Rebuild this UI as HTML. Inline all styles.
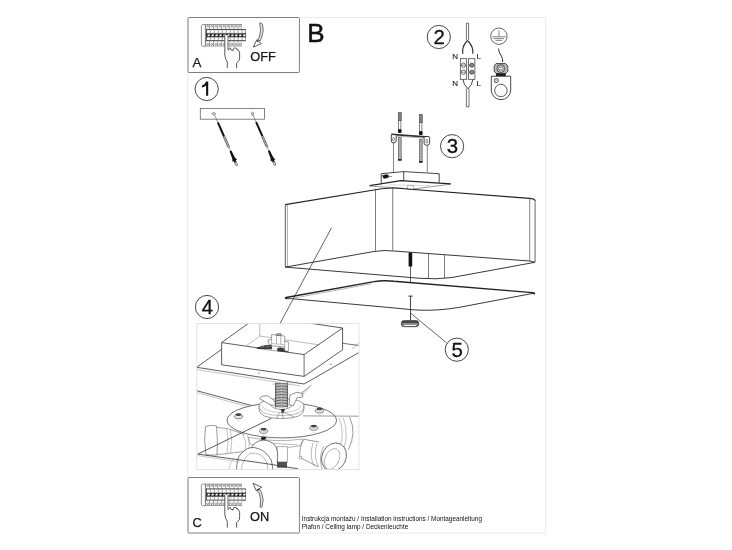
<!DOCTYPE html>
<html><head><meta charset="utf-8">
<style>
html,body{margin:0;padding:0;background:#fff;}
body{width:732px;height:550px;overflow:hidden;position:relative;}
svg{position:absolute;left:0;top:0;will-change:transform;}
text{font-family:"Liberation Sans",sans-serif;fill:#111;}
</style></head><body>
<svg width="732" height="550" viewBox="0 0 732 550">
<defs>
  <g id="tb">
<path d="M0.4,1.3 L1.4,0.2 H4.4 V21.9 H1.4 L0.4,20.8 Z" fill="#fff" stroke="#444" stroke-width="0.6"/>
<rect x="5.2" y="5.1" width="39.3" height="11.3" fill="#aaa" stroke="#222" stroke-width="0.7"/>
<rect x="5.2" y="9.1" width="39.3" height="3.6" fill="#222"/>
<rect x="4.4" y="0" width="36.6" height="5" fill="#555"/>
<rect x="4.4" y="16.3" width="36.6" height="5.6" fill="#555"/>
<g fill="#fff"><rect x="4.90" y="0.6" width="3.5" height="3.9"/><rect x="8.94" y="0.6" width="3.5" height="3.9"/><rect x="12.98" y="0.6" width="3.5" height="3.9"/><rect x="17.02" y="0.6" width="3.5" height="3.9"/><rect x="21.06" y="0.6" width="3.5" height="3.9"/><rect x="25.10" y="0.6" width="3.5" height="3.9"/><rect x="29.14" y="0.6" width="3.5" height="3.9"/><rect x="33.18" y="0.6" width="3.5" height="3.9"/><rect x="37.22" y="0.6" width="3.5" height="3.9"/><rect x="4.90" y="16.8" width="3.5" height="4.6"/><rect x="8.94" y="16.8" width="3.5" height="4.6"/><rect x="12.98" y="16.8" width="3.5" height="4.6"/><rect x="17.02" y="16.8" width="3.5" height="4.6"/><rect x="21.06" y="16.8" width="3.5" height="4.6"/><rect x="25.10" y="16.8" width="3.5" height="4.6"/><rect x="29.14" y="16.8" width="3.5" height="4.6"/><rect x="33.18" y="16.8" width="3.5" height="4.6"/><rect x="37.22" y="16.8" width="3.5" height="4.6"/><rect x="6.00" y="5.8" width="2.9" height="2.6"/><rect x="9.95" y="5.8" width="2.9" height="2.6"/><rect x="13.90" y="5.8" width="2.9" height="2.6"/><rect x="17.85" y="5.8" width="2.9" height="2.6"/><rect x="21.80" y="5.8" width="2.9" height="2.6"/><rect x="25.75" y="5.8" width="2.9" height="2.6"/><rect x="29.70" y="5.8" width="2.9" height="2.6"/><rect x="33.65" y="5.8" width="2.9" height="2.6"/><rect x="37.60" y="5.8" width="2.9" height="2.6"/><rect x="41.55" y="5.8" width="2.9" height="2.6"/><rect x="6.00" y="13.3" width="2.9" height="2.3"/><rect x="9.95" y="13.3" width="2.9" height="2.3"/><rect x="13.90" y="13.3" width="2.9" height="2.3"/><rect x="17.85" y="13.3" width="2.9" height="2.3"/><rect x="21.80" y="13.3" width="2.9" height="2.3"/><rect x="25.75" y="13.3" width="2.9" height="2.3"/><rect x="29.70" y="13.3" width="2.9" height="2.3"/><rect x="33.65" y="13.3" width="2.9" height="2.3"/><rect x="37.60" y="13.3" width="2.9" height="2.3"/><rect x="41.55" y="13.3" width="2.9" height="2.3"/></g>
<g fill="#fff"><path d="M6.30,11.8 L6.90,10 H9.10 L8.50,11.8 Z"/><path d="M10.25,11.8 L10.85,10 H13.05 L12.45,11.8 Z"/><path d="M14.20,11.8 L14.80,10 H17.00 L16.40,11.8 Z"/><path d="M18.15,11.8 L18.75,10 H20.95 L20.35,11.8 Z"/><path d="M22.10,11.8 L22.70,10 H24.90 L24.30,11.8 Z"/><path d="M26.05,11.8 L26.65,10 H28.85 L28.25,11.8 Z"/><path d="M30.00,11.8 L30.60,10 H32.80 L32.20,11.8 Z"/><path d="M33.95,11.8 L34.55,10 H36.75 L36.15,11.8 Z"/><path d="M37.90,11.8 L38.50,10 H40.70 L40.10,11.8 Z"/><path d="M41.85,11.8 L42.45,10 H44.65 L44.05,11.8 Z"/></g>
<g fill="none" stroke="#444" stroke-width="0.5"><circle cx="6.65" cy="1.9" r="0.85"/><circle cx="10.69" cy="1.9" r="0.85"/><circle cx="14.73" cy="1.9" r="0.85"/><circle cx="18.77" cy="1.9" r="0.85"/><circle cx="22.81" cy="1.9" r="0.85"/><circle cx="26.85" cy="1.9" r="0.85"/><circle cx="30.89" cy="1.9" r="0.85"/><circle cx="34.93" cy="1.9" r="0.85"/><circle cx="38.97" cy="1.9" r="0.85"/><circle cx="6.65" cy="19.9" r="0.9"/><circle cx="10.69" cy="19.9" r="0.9"/><circle cx="14.73" cy="19.9" r="0.9"/><circle cx="18.77" cy="19.9" r="0.9"/><circle cx="22.81" cy="19.9" r="0.9"/><circle cx="26.85" cy="19.9" r="0.9"/><circle cx="30.89" cy="19.9" r="0.9"/><circle cx="34.93" cy="19.9" r="0.9"/><circle cx="38.97" cy="19.9" r="0.9"/></g>
</g>
  <g id="hand">
    <path d="M-0.2,-1 H3.3 V13.6 L4.3,12 L5.6,13.3 L6,11.6 L8.6,14.2 L9,12 L11.8,12.4 Q14.8,14.8 14.8,17 L14.5,24 L11.8,27.2 V32.2 H2.5 V26 Q0.5,23.5 -0.3,19 Z" fill="#fff" stroke="none"/>
    <path d="M0,-1 V19 Q0.5,23.5 2.5,26 V32.2" fill="none" stroke="#222" stroke-width="0.75"/>
    <path d="M3.1,-1 V13.6" fill="none" stroke="#222" stroke-width="0.6"/>
    <path d="M3.1,13.6 Q3.7,14.6 4.3,13.3 L4.4,11.8 M5.3,11.6 Q5.8,14.8 8.4,14.5 L8.6,12.3 M9,12 Q10.5,11.8 11.8,12.4 Q14.8,14.8 14.8,17 Q15,22 14.5,24 Q13,26 11.8,27.2 V32.2" fill="none" stroke="#222" stroke-width="0.75"/>
    <path d="M11.8,12.4 L12.4,14.6" fill="none" stroke="#222" stroke-width="0.5"/>
  </g>
</defs>

<!-- page border -->
<rect x="187.8" y="17.5" width="357.8" height="515.5" fill="none" stroke="#ebebeb" stroke-width="1"/>

<!-- Box A -->
<rect x="188" y="17.5" width="111.4" height="55" rx="0.8" fill="#fff" stroke="#808080" stroke-width="1"/>
<use href="#tb" x="201" y="24.4"/>
<use href="#hand" x="224.8" y="36"/>
<path d="M259.7,23.2 Q260.9,22.2 262.3,23.8 Q264.5,30 261.7,37.2 L260.3,40.7 L257.6,40.1 L259.4,37.2 Q261.6,30 259.7,23.2 Z" fill="#e6e6e6" stroke="#333" stroke-width="0.7"/>
<path d="M253.3,47.1 L256.8,39.8 L261.4,43.6 Z" fill="#fff" stroke="#333" stroke-width="0.8"/>
<path d="M256.5,40 L258.3,41.2 L257.3,42.5 Z" fill="#333"/>
<text x="192.6" y="67" font-size="13.3" stroke="#222" stroke-width="0.25">A</text>
<text x="250.3" y="61" font-size="12.8" stroke="#222" stroke-width="0.25">OFF</text>
<text x="307.3" y="42.2" font-size="26" stroke="#111" stroke-width="0.5">B</text>

<!-- Box C -->
<rect x="188" y="477.5" width="111.4" height="55.5" rx="0.8" fill="#fff" stroke="#808080" stroke-width="1"/>
<use href="#tb" x="201" y="483.8"/>
<use href="#hand" x="224.8" y="495.5"/>
<path d="M260.2,507 Q261,508 262.1,506.8 Q264.5,499 261.5,492.5 L259.8,489.6 L257.2,490.5 L259.2,493 Q261.5,499 260.2,507 Z" fill="#e6e6e6" stroke="#333" stroke-width="0.7"/>
<path d="M253,483.2 L261.7,487.3 L256.2,490.5 Z" fill="#fff" stroke="#333" stroke-width="0.8"/>
<path d="M256.2,490.3 L258.3,488.6 L259.3,490 Z" fill="#333"/>
<text x="192.4" y="527.1" font-size="12.8" stroke="#222" stroke-width="0.25">C</text>
<text x="250" y="521.2" font-size="12.8" stroke="#222" stroke-width="0.25">ON</text>

<!-- footer text -->
<text x="301.8" y="520.6" font-size="6.42" fill="#1a1a1a">Instrukcja montażu / Installation instructions / Montageanleitung</text>
<text x="301.8" y="528.8" font-size="6.42" fill="#1a1a1a">Plafon / Ceiling lamp / Deckenleuchte</text>

<!-- circled numbers -->
<g fill="none" stroke="#333" stroke-width="0.9">
  <circle cx="206.7" cy="89" r="11.6"/>
  <circle cx="438.8" cy="37" r="11.6"/>
  <circle cx="452.1" cy="146.2" r="11.6"/>
  <circle cx="207" cy="307" r="11.6"/>
  <circle cx="456.8" cy="349.7" r="11.6"/>
</g>
<g font-size="20.4" text-anchor="middle" stroke="#111" stroke-width="0.3">
  <text x="439.1" y="44.1">2</text>
  <text x="452.4" y="153.3">3</text>
  <text x="207.3" y="314.1">4</text>
  <text x="457.1" y="356.8">5</text>
</g>


<!-- inset 4 -->
<defs><clipPath id="ic"><rect x="196.8" y="323.5" width="162.2" height="146.1"/></clipPath></defs>
<g clip-path="url(#ic)" fill="none" stroke="#333">
  <!-- lower plane lines -->
  <path d="M196.7,390.7 L262,408.4" stroke-width="0.8"/>
  <path d="M196.7,392.6 L258,409.4" stroke="#888" stroke-width="0.5"/>
  
  <!-- sockets back -->
  <!-- left socket -->
  <path d="M217,427.4 L227.2,428.6 L244.4,434.4 L249.5,450.9 L217,454.7 Z" fill="#fff" stroke="none"/>
  <path d="M217,427.4 L227.2,428.6 L244.4,434.4 M217,454.7 L249.5,450.9" stroke="#666" stroke-width="0.6"/>
  <path d="M205.5,426.5 Q211,424.5 216.5,426 Q218,440 217,455 L206,455 Q203.5,440 205.5,426.5 Z" fill="#fff" stroke="#555" stroke-width="0.6"/>
  <path d="M226.5,428.5 Q229.5,440 227,453.5 M230.4,429.6 Q233,441 230.6,453 M243,434 Q247,442 245.5,451.5 M247.5,435 Q250,443 249,451" stroke="#888" stroke-width="0.5"/>
  <!-- right socket behind -->
  <path d="M337,418 L349.6,417 Q356,432 348.3,449.7 L330,449 Z" fill="#fff" stroke="none"/>
  <path d="M349.6,417 Q357,433 348.3,449.7" stroke="#555" stroke-width="0.6"/>
  <path d="M339,418 Q345,432 340,447 M343,417.5 Q349,432 344,448" stroke="#888" stroke-width="0.5"/>
  <!-- central hub under plate -->
  <path d="M248.4,437.2 Q275,443 303,439 L300,446 Q275,450 250,444 Z" fill="#fff" stroke="#666" stroke-width="0.5"/>
  <path d="M271.4,443.4 L298.2,444.9" stroke="#777" stroke-width="0.5"/>
  <rect x="277.1" y="446.8" width="10.5" height="15.5" fill="#fff" stroke="#666" stroke-width="0.5"/>
  <rect x="277.3" y="462" width="9.5" height="5.3" fill="#555" stroke="#333" stroke-width="0.5"/>
  <path d="M261,438 l4,-1.5 l1,2.2 l-4,1 Z" fill="#111"/>
  <!-- front-left socket rear ring -->
  <path d="M250,452 Q252,441 263.7,440.1 Q276,441 277.5,452 Q278,458 277.1,462" fill="#fff" stroke="#444" stroke-width="0.7"/>
  <!-- front-left socket front ring -->
  <path d="M236,470 Q237,458 240,455 Q246,447 254,447.5 Q265,449 271.4,460.2 L273,470 Z" fill="#fff" stroke="none"/>
  <path d="M236.5,470 Q237,458 240,455 Q246,447 254,447.5 Q265,449 271.4,460.2 L273,470" stroke="#444" stroke-width="0.7"/>
  <path d="M241,470 Q243,458 250,453.5 Q262,451 267,463 L268,470" stroke="#777" stroke-width="0.5"/>
  <path d="M228.5,470 Q230,462 234,458" stroke="#999" stroke-width="0.5"/>
  <!-- front-right socket -->
  <path d="M303.8,439.3 L326,443.2 L343,469.5 L318.2,466.7 L299.9,457.6 Z" fill="#fff" stroke="none"/>
  <path d="M303.8,439.3 L319,442 M299.9,457.6 L318.2,466.7" stroke="#555" stroke-width="0.6"/>
  <path d="M303.8,439.3 Q299,447 299.9,457.6" stroke="#555" stroke-width="0.6"/>
  <circle cx="300.5" cy="457.6" r="1.4" fill="#fff" stroke="#555" stroke-width="0.5"/>
  <path d="M313,443 Q309,456 314,466 M317,443.5 Q313,456 318.5,467" stroke="#777" stroke-width="0.5"/>
  <ellipse cx="334" cy="457" rx="12" ry="14.5" transform="rotate(25 334 457)" fill="#fff" stroke="#444" stroke-width="0.7"/>
  <ellipse cx="332" cy="459" rx="7" ry="11" transform="rotate(25 332 459)" fill="none" stroke="#777" stroke-width="0.5"/>
  <path d="M324,446 Q318,456 322,469" stroke="#666" stroke-width="0.5"/>
  <!-- round plate -->
  <ellipse cx="281.8" cy="420.3" rx="54.8" ry="17.6" fill="#fff" stroke="#333" stroke-width="0.7"/>
  <path d="M234.3,417.1 Q234.2,414.0 238.5,413.90000000000003 Q242.8,414.0 242.7,417.1 Q242.0,418.8 238.5,418.8 Q235.0,418.8 234.3,417.1 Z" fill="#fff" stroke="#444" stroke-width="0.65"/><ellipse cx="238.5" cy="414.7" rx="2.6" ry="0.8" fill="#555"/><path d="M234.9,416.6 Q238.5,417.90000000000003 242.1,416.6" fill="none" stroke="#888" stroke-width="0.4"/><path d="M237.3,420.5 Q238.5,421.5 239.7,420.5" fill="none" stroke="#999" stroke-width="0.4"/>
  <path d="M259.40000000000003,431.7 Q259.3,428.59999999999997 263.6,428.5 Q267.90000000000003,428.59999999999997 267.8,431.7 Q267.1,433.4 263.6,433.4 Q260.1,433.4 259.40000000000003,431.7 Z" fill="#fff" stroke="#444" stroke-width="0.65"/><ellipse cx="263.6" cy="429.29999999999995" rx="2.6" ry="0.8" fill="#555"/><path d="M260.0,431.2 Q263.6,432.5 267.20000000000005,431.2" fill="none" stroke="#888" stroke-width="0.4"/><path d="M262.40000000000003,435.09999999999997 Q263.6,436.09999999999997 264.8,435.09999999999997" fill="none" stroke="#999" stroke-width="0.4"/>
  <path d="M315.40000000000003,411.40000000000003 Q315.3,408.3 319.6,408.20000000000005 Q323.90000000000003,408.3 323.8,411.40000000000003 Q323.1,413.1 319.6,413.1 Q316.1,413.1 315.40000000000003,411.40000000000003 Z" fill="#fff" stroke="#444" stroke-width="0.65"/><ellipse cx="319.6" cy="409.0" rx="2.6" ry="0.8" fill="#555"/><path d="M316.0,410.90000000000003 Q319.6,412.20000000000005 323.20000000000005,410.90000000000003" fill="none" stroke="#888" stroke-width="0.4"/><path d="M318.40000000000003,414.8 Q319.6,415.8 320.8,414.8" fill="none" stroke="#999" stroke-width="0.4"/>
  <path d="M309.6,428.6 Q309.5,425.5 313.8,425.40000000000003 Q318.1,425.5 318.0,428.6 Q317.3,430.3 313.8,430.3 Q310.3,430.3 309.6,428.6 Z" fill="#fff" stroke="#444" stroke-width="0.65"/><ellipse cx="313.8" cy="426.2" rx="2.6" ry="0.8" fill="#555"/><path d="M310.2,428.1 Q313.8,429.40000000000003 317.40000000000003,428.1" fill="none" stroke="#888" stroke-width="0.4"/><path d="M312.6,432.0 Q313.8,433.0 315.0,432.0" fill="none" stroke="#999" stroke-width="0.4"/>
  <!-- long diagonal plane edges (front) -->
  <path d="M303,415.9 L359.3,416.2" stroke="#555" stroke-width="0.6"/>
  <path d="M197.9,454.1 L266,421 L271.7,418" stroke-width="0.8"/>
  <path d="M197.9,454.1 L266,463.6 L298,468.8" stroke-width="0.8"/>
  <path d="M196.7,455.5 L240,462" stroke="#999" stroke-width="0.5"/>
  <!-- wing nut -->
  <path d="M259,406 Q259,399 281.5,398.5 Q304,399 304,406 L304,409 Q304,418.5 281.5,418.5 Q259,418.5 259,409 Z" fill="#fff" stroke="#555" stroke-width="0.6"/>
  <path d="M259,406 Q259,415.5 281.5,415.5 Q304,415.5 304,406" fill="none" stroke="#777" stroke-width="0.5"/>
  <path d="M262,405 Q263,412 281.5,412.5 Q300,412 301,405" fill="none" stroke="#999" stroke-width="0.5"/>
  <path d="M270,404 Q272,409 281.5,409.5 Q291,409 293,404" fill="none" stroke="#555" stroke-width="0.6"/>
  <path d="M281,411 L283.5,419 M279.5,412.5 L276.5,419 M284,412 L294,417" stroke="#555" stroke-width="0.5"/>
  <path d="M280.5,409 L285,409 L283,414 Z" fill="#333" stroke="none"/>
  <path d="M259.5,398.6 L262,396.2 L267.5,395.8 L274.2,400.6 L276,405.5 L270.5,404.8 Z" fill="#fff" stroke="#444" stroke-width="0.6"/>
  <path d="M289,405 L290,395 L297,392.2 L303,393.6 L302.4,397 L297,397.8 L293.5,405.5 Z" fill="#fff" stroke="#444" stroke-width="0.6"/>
  <path d="M301.9,392.8 L311.5,385" stroke="#555" stroke-width="0.6"/>
  <path d="M300.5,395.5 L309.5,388" stroke="#888" stroke-width="0.5"/>
  <!-- spring rod -->
  <rect x="275.6" y="382" width="11.8" height="25.5" fill="#fff" stroke="none"/>
  <path d="M275.6,382.5 V407.5 M287.4,382.5 V407.5" stroke="#333" stroke-width="0.8"/>
  <path d="M275.6,383.30 Q281.5,384.10 287.4,383.30 M275.6,384.85 Q281.5,385.65 287.4,384.85 M275.6,386.40 Q281.5,387.20 287.4,386.40 M275.6,387.95 Q281.5,388.75 287.4,387.95 M275.6,389.50 Q281.5,390.30 287.4,389.50 M275.6,391.05 Q281.5,391.85 287.4,391.05 M275.6,392.60 Q281.5,393.40 287.4,392.60 M275.6,394.15 Q281.5,394.95 287.4,394.15 M275.6,395.70 Q281.5,396.50 287.4,395.70 M275.6,397.25 Q281.5,398.05 287.4,397.25 M275.6,398.80 Q281.5,399.60 287.4,398.80 M275.6,400.35 Q281.5,401.15 287.4,400.35 M275.6,401.90 Q281.5,402.70 287.4,401.90 M275.6,403.45 Q281.5,404.25 287.4,403.45 M275.6,405.00 Q281.5,405.80 287.4,405.00 M275.6,406.55 Q281.5,407.35 287.4,406.55" fill="none" stroke="#333" stroke-width="0.75"/>
  <!-- ceiling plate -->
  <path d="M196.7,367.3 L248.3,330.3 L342.6,343.3 L358.6,345.4 L358.6,352.7 L304.1,384 Z" fill="#fff" stroke="none"/>
  <path d="M196.7,367.3 L221.6,349.4" stroke-width="0.8"/>
  <path d="M196.7,367.3 L304.1,384 L358.6,352.7" stroke-width="0.8"/>
  <path d="M196.7,369.6 L300,385.8" stroke="#888" stroke-width="0.5"/>
  <path d="M342.6,343.3 L358.6,345.4" stroke-width="0.7"/>
  <path d="M352,349 L359,343" stroke="#777" stroke-width="0.5"/>
  <path d="M272,384 Q281,387 292,384" stroke="#999" stroke-width="0.5"/>
  <circle cx="259" cy="373.1" r="0.6" fill="#333" stroke="none"/>
  <circle cx="331" cy="364.3" r="0.6" fill="#333" stroke="none"/>
  <!-- box -->
  <path d="M221.6,342.6 L248.1,323.6 L309.9,323.2 L342.6,328 L342.6,349.8 L304.1,376.4 L221.6,364.8 Z" fill="#fff" stroke="none"/>
  <path d="M221.6,342.6 L304.1,354.6 L342.6,328 L342.6,349.8 L304.1,376.4 L221.6,364.8 Z" stroke-width="0.8"/>
  <path d="M304.1,354.6 V376.4" stroke-width="0.7"/>
  <path d="M221.6,342.6 L248.1,323.6 M309.9,323.2 L342.6,328" stroke-width="0.8"/>
  <path d="M259.8,323.6 V336 L318,344.7 M259.8,336 L247,345.3" stroke="#777" stroke-width="0.5"/>
  <!-- fixture inside box -->
  <path d="M256.4,348.4 Q262,345 270,344.8 L276,345.4 L288,351.8 L272,350.5 Z" fill="#fff" stroke="#666" stroke-width="0.45"/>
  <path d="M257,348.3 Q262,346.2 267,345.6 L271,345.8 L271.8,348.9 Z" fill="#4a4a4a"/><path d="M262,347 l2,-0.8 M266.5,346.3 l2,0.5" stroke="#ddd" stroke-width="0.4"/>
  <path d="M277.7,348.5 Q283,346.8 287.5,351.7 L277.7,350.8 Z" fill="#3a3a3a"/>
  <path d="M268.3,339.8 H271.6 V334.5 L284.7,336.1 V341.4 L288.4,341.8 V351.3 L284.7,351 V347 L272,345.8 L268.3,343.1 Z" fill="#fff" stroke="#444" stroke-width="0.5"/>
  <path d="M271.6,339.8 V345.8 M276.5,335.2 V343.8 M280.8,335.7 V344.2 M284.7,341.4 V347" stroke="#555" stroke-width="0.45"/>
  <ellipse cx="278.8" cy="334.6" rx="3" ry="1.1" fill="#999" stroke="#444" stroke-width="0.4"/>
  <path d="M272,343.5 L284.5,344.8" stroke="#666" stroke-width="0.4"/>
</g>
<rect x="196.8" y="323.5" width="162.2" height="146.1" fill="none" stroke="#ddd" stroke-width="0.8"/>

<path d="M206.1,81.6 H208.2 V95.8 H206.1 V85.4 Q204.6,86.9 201.9,87.5 V85.8 Q205.2,84.6 206.1,81.6 Z" fill="#111"/>
<!-- step 1 -->
<rect x="200.3" y="108.5" width="64.2" height="10.7" fill="none" stroke="#666" stroke-width="0.8"/>
<ellipse cx="213.8" cy="113.7" rx="1.6" ry="1" fill="none" stroke="#333" stroke-width="0.6"/>
<ellipse cx="252.5" cy="113.7" rx="0.9" ry="1.6" fill="none" stroke="#333" stroke-width="0.6"/>
<g id="anchor" transform="translate(214.1,113.9) rotate(-23.8)">
  <path d="M0,1.2 V9.3" stroke="#444" stroke-width="0.5"/>
  <rect x="-1" y="9.3" width="2" height="15.4" fill="#111"/>
  <rect x="-0.9" y="24.7" width="1.8" height="11.8" fill="#fff" stroke="#333" stroke-width="0.5"/>
  <path d="M-0.9,25.5 L0.9,26.5 M-0.9,27.0 L0.9,28.0 M-0.9,28.5 L0.9,29.5 M-0.9,30.0 L0.9,31.0 M-0.9,31.5 L0.9,32.5 M-0.9,33.0 L0.9,34.0 M-0.9,34.5 L0.9,35.5" stroke="#333" stroke-width="0.5"/>
  <path d="M0,36.5 V40.5" stroke="#444" stroke-width="0.5"/>
  <path d="M-1,40.5 H1 L1.4,48 L2.6,51.5 L1.2,51 L1,53 H-1 L-1.2,51 L-2.6,51.5 L-1.4,48 Z" fill="#111"/>
  <ellipse cx="0" cy="54.6" rx="1" ry="2" fill="#fff" stroke="#222" stroke-width="0.6"/>
</g>
<use href="#anchor" x="38.3" y="-0.3"/>

<!-- step 2 wiring -->
<g fill="none" stroke="#333">
  <path d="M466.4,23.2 L466.4,40 M468.6,23.2 L468.6,40 M466.4,23.2 L468.6,23.2" stroke-width="0.7"/>
  <path d="M467.5,40.5 Q463,45 462.7,50 L462.7,53.8" stroke-width="1.2"/>
  <path d="M467.5,40.5 Q472,45 472.8,50 L472.8,53.8" stroke-width="1.2"/>
  <rect x="460.3" y="58.7" width="6.4" height="20.6" stroke-width="0.7"/>
  <rect x="468.5" y="58.7" width="6.4" height="20.6" stroke-width="0.7"/>
  <circle cx="463.4" cy="65.2" r="2.2" stroke-width="0.7"/>
  <circle cx="463.4" cy="72.2" r="2.2" stroke-width="0.7"/>
  <path d="M461.4,65.2 H465.4 M461.4,72.2 H465.4" stroke-width="0.6"/>
  <ellipse cx="471.8" cy="65.2" rx="2.3" ry="2" fill="#888" stroke-width="0.7"/>
  <ellipse cx="471.8" cy="72.2" rx="2.3" ry="2" fill="#888" stroke-width="0.7"/>
  <path d="M462.9,79.3 Q463.5,85 467.9,88.8 Q472.3,85 472.9,79.3" stroke-width="0.9"/>
  <path d="M466.4,88.5 V106.8 H469 V88.5" stroke-width="0.7"/>
  <circle cx="468.2" cy="69" r="0.5" fill="#333" stroke="none"/>
  <!-- ground -->
  <circle cx="498.9" cy="36.2" r="8.2" stroke="#555" stroke-width="0.9"/>
  <path d="M499,30.3 V36.8 M492,36.8 H505.8 M493.8,38.6 H504 M495.6,40.4 H502.2" stroke="#777" stroke-width="0.9"/>
  <path d="M498.6,48.5 Q498.5,52 500.8,55 Q503,58 502.7,62" stroke="#333" stroke-width="1"/>
  <path d="M491.3,76.2 H510.7 V90 A9.7,9.7 0 0 1 491.3,90 Z" fill="#fff" stroke="#333" stroke-width="0.9"/>
  <circle cx="500.9" cy="90.5" r="6.2" stroke-width="0.8"/>
  <circle cx="496.3" cy="80.6" r="2" stroke-width="0.9"/>
  <path d="M495.3,81 Q496.3,79.5 497.3,81" stroke-width="0.5"/>
  <rect x="496" y="72.6" width="9.8" height="3.6" fill="#222" stroke="none"/>
  <path d="M496,63.6 H505.6 L507.8,66 V71.2 L505.6,73.6 H496 L494.2,71.2 V66 Z" fill="#bbb" stroke="#222" stroke-width="0.8"/>
  <circle cx="500.8" cy="68.6" r="3.9" fill="#fff" stroke="#222" stroke-width="0.8"/>
  <circle cx="500.8" cy="68.6" r="2.6" fill="#fff" stroke="#333" stroke-width="0.6"/>
  <path d="M499,67.7 H502.6 M499,69.5 H502.6" stroke="#333" stroke-width="0.5"/>
</g>
<g font-size="8" fill="#222" stroke="#222" stroke-width="0.1">
  <text x="452.3" y="58.6">N</text>
  <text x="476.6" y="58.6">L</text>
  <text x="452.3" y="85.9">N</text>
  <text x="476.4" y="85.9">L</text>
</g>

<!-- step 3 bolts & bracket -->
<g fill="none" stroke="#333">
  <rect x="398.40000000000003" y="112.7" width="2.8" height="7.7" fill="#666" stroke="#222" stroke-width="0.6"/><path d="M398.40000000000003,113.6 h2.8 M398.40000000000003,114.7 h2.8 M398.40000000000003,115.8 h2.8 M398.40000000000003,116.9 h2.8 M398.40000000000003,118.0 h2.8 M398.40000000000003,119.1 h2.8 M398.40000000000003,120.2 h2.8" stroke="#ccc" stroke-width="0.35"/><rect x="398.7" y="120.4" width="2.2" height="8.9" fill="#fff" stroke="#333" stroke-width="0.6"/><rect x="398.0" y="129.3" width="3.6" height="3.6" rx="0.8" fill="#111" stroke="none"/><rect x="398.45" y="137.7" width="2.7" height="22.3" fill="#999" stroke="#333" stroke-width="0.6"/><path d="M398.45,138.7 h2.7 M398.45,140.2 h2.7 M398.45,141.7 h2.7 M398.45,143.2 h2.7 M398.45,144.7 h2.7 M398.45,146.2 h2.7 M398.45,147.7 h2.7 M398.45,149.2 h2.7 M398.45,150.7 h2.7 M398.45,152.2 h2.7 M398.45,153.7 h2.7 M398.45,155.2 h2.7 M398.45,156.7 h2.7 M398.45,158.2 h2.7" stroke="#eee" stroke-width="0.4"/><rect x="398.0" y="159.1" width="3.6" height="1.6" fill="#222" stroke="none"/><rect x="419.40000000000003" y="114.7" width="2.8" height="7.7" fill="#666" stroke="#222" stroke-width="0.6"/><path d="M419.40000000000003,115.6 h2.8 M419.40000000000003,116.7 h2.8 M419.40000000000003,117.8 h2.8 M419.40000000000003,118.9 h2.8 M419.40000000000003,120.0 h2.8 M419.40000000000003,121.1 h2.8 M419.40000000000003,122.2 h2.8" stroke="#ccc" stroke-width="0.35"/><rect x="419.7" y="122.4" width="2.2" height="8.9" fill="#fff" stroke="#333" stroke-width="0.6"/><rect x="419.0" y="131.3" width="3.6" height="3.6" rx="0.8" fill="#111" stroke="none"/><rect x="419.45" y="139.7" width="2.7" height="22.3" fill="#999" stroke="#333" stroke-width="0.6"/><path d="M419.45,140.7 h2.7 M419.45,142.2 h2.7 M419.45,143.7 h2.7 M419.45,145.2 h2.7 M419.45,146.7 h2.7 M419.45,148.2 h2.7 M419.45,149.7 h2.7 M419.45,151.2 h2.7 M419.45,152.7 h2.7 M419.45,154.2 h2.7 M419.45,155.7 h2.7 M419.45,157.2 h2.7 M419.45,158.7 h2.7 M419.45,160.2 h2.7" stroke="#eee" stroke-width="0.4"/><rect x="419.0" y="161.1" width="3.6" height="1.6" fill="#222" stroke="none"/>
  <path d="M391.2,134.4 L429.4,137.1" stroke-width="1.7"/><path d="M393,135.9 L427.5,138.3" stroke="#777" stroke-width="0.5"/>
  <path d="M391.3,135 V141 Q391.3,142.9 393.6,142.9 Q396.2,142.9 396.2,141 V135.4" fill="#fff" stroke="#333" stroke-width="0.9"/>
  <path d="M424.1,137 V143.2 Q424.1,145.3 426.8,145.3 Q429.6,145.3 429.6,143.2 V137.3" fill="#fff" stroke="#333" stroke-width="0.9"/>
  <rect x="392.7" y="137.5" width="1.6" height="3.6" rx="0.8" stroke-width="0.5"/>
  <rect x="426" y="139.5" width="1.6" height="3.6" rx="0.8" stroke-width="0.5"/>
        <path d="M393.5,142.9 V172.3 M427.3,145.3 V172.3" stroke-width="0.6"/>
  <!-- canopy -->
  <path d="M381.2,173.7 L403.7,171.6 L439.2,173.7 L439.2,182.5 M381.2,173.7 V183.5 M403.7,171.6 V180.5" stroke-width="0.9"/>
  <path d="M369.6,185.7 L401,180.6 L450.8,183.9 L410,189 Z" fill="#fff" stroke="none"/>
  <path d="M369.6,185.7 L401,180.6 L450.8,183.9" stroke="#222" stroke-width="1.3"/>
  <path d="M369.6,186 L407.8,188.6 M450.8,184.2 L413,189" stroke="#555" stroke-width="0.6"/>
  <path d="M389,184.8 L430,185.6" stroke="#bbb" stroke-width="0.5"/>
  <rect x="407.8" y="185.2" width="5.4" height="4.2" fill="#fff" stroke="#777" stroke-width="0.5"/>
  <path d="M382.3,175.6 l4.5,-1.2 l1.8,1 l-0.2,2.2 l-4.6,1 Z" fill="#111" stroke-width="0.5"/>
  <path d="M388,176.5 H392" stroke-width="0.5"/>
</g>

<!-- shade -->
<g fill="none" stroke="#222">
  <path d="M285.3,204.6 L380,189 Q392,187.2 404,188.7 L529.7,198.4 Q535.1,199 535.1,201" stroke-width="1.15"/>
  <path d="M285.3,204.6 V267.1" stroke="#333" stroke-width="0.8"/><path d="M287.4,205 V266.6" stroke="#777" stroke-width="0.6"/>
  <path d="M529.7,198.6 V261" stroke="#555" stroke-width="0.7"/><path d="M535.1,201 V262.3" stroke="#444" stroke-width="0.8"/>
  <path d="M375.5,188.8 V250.8 M392.7,187.5 V250.5" stroke="#444" stroke-width="0.7"/>
  <path d="M285.3,267.1 L374,251.5 Q384,249.8 394,251 L529.7,261 L534.9,262.3" stroke-width="0.9"/>
  <path d="M285.3,267.1 L420,278.3 Q436,279.6 452,277.5 L534.9,262.3" stroke-width="0.9"/>
  <path d="M428.5,253.2 V278.5 M444.5,254.3 V278.5" stroke="#444" stroke-width="0.7"/>
  <rect x="408.6" y="252.5" width="3.6" height="14" fill="#111" stroke="none"/>
  <path d="M410.5,266 V282" stroke-width="0.7"/>
  <!-- diffuser -->
  <path d="M287,298.6 Q284.6,298.2 286.2,297.5 L374,281.6 Q384,280 394,281.2 L532.5,292.6 Q535.8,293.2 533.5,294" stroke-width="1.4"/>
  <path d="M285.3,298.1 L400,308.5 C420,311 440,311.6 470,305.3 L534.9,293" stroke-width="0.9"/>
  <path d="M286,298.5 L370,283" stroke="#888" stroke-width="0.6" transform="translate(1,0.8)"/>
  <!-- T & knob -->
  <path d="M408.3,296.1 H412.8 M410.5,296.1 V320.5" stroke="#222" stroke-width="0.85"/>
  <rect x="401.3" y="320.5" width="17.5" height="6.2" rx="2.8" ry="2.6" fill="#777" stroke="#222" stroke-width="0.6"/>
  <rect x="403.8" y="324.8" width="12.5" height="1.2" fill="#f4f4f4" stroke="none"/>
  <path d="M403.5,323.4 H416.5" stroke="#aaa" stroke-width="0.7" stroke-dasharray="1.5,0.8"/>
  <path d="M402.2,322 H418" stroke="#111" stroke-width="0.9"/>
  <!-- leaders -->
  <path d="M331.5,227.8 L280.2,323.2" stroke-width="0.7"/>
  <path d="M410.5,313 L446.5,342.8" stroke-width="0.7"/>
</g>
</svg>
</body></html>
